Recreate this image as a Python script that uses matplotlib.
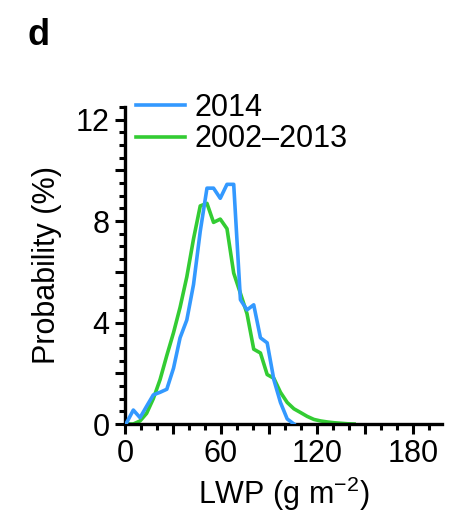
import numpy as np
import matplotlib
matplotlib.use("Agg")
import matplotlib.pyplot as plt
from matplotlib.ticker import MultipleLocator, FuncFormatter

plt.rcParams['font.family'] = ['Liberation Sans', 'DejaVu Sans']
plt.rcParams['mathtext.fontset'] = 'custom'
plt.rcParams['mathtext.rm'] = 'Liberation Sans'
plt.rcParams['mathtext.default'] = 'regular'

# LWP bin positions (g m-2)
lwp_2014 = [1.0, 5.2, 9.4, 13.5, 17.7, 21.9, 26.1, 30.3, 34.4, 38.6, 42.8, 47.0,
            51.2, 55.3, 59.5, 63.7, 67.9, 72.1, 76.2, 80.4, 84.6, 88.8, 93.0,
            97.1, 101.3, 105.5]
prob_2014 = [0.05, 0.55, 0.25, 0.7, 1.15, 1.25, 1.37, 2.2, 3.4, 4.1, 5.5, 7.6,
             9.3, 9.3, 8.9, 9.45, 9.45, 4.9, 4.5, 4.7, 3.4, 3.2, 1.74,
             0.85, 0.2, 0.0]

lwp_clim = [1.0, 5.2, 9.4, 13.5, 17.7, 21.9, 26.1, 30.3, 34.4, 38.6, 42.8, 47.0,
            51.2, 55.3, 59.5, 63.7, 67.9, 72.1, 76.2, 80.4, 84.6, 88.8, 93.0,
            97.1, 101.3, 105.5, 109.7, 113.8, 118.0, 122.2, 126.4, 130.5, 134.7,
            138.9, 143.1]
prob_clim = [0.0, 0.0, 0.12, 0.42, 1.0, 1.75, 2.7, 3.6, 4.6, 5.8, 7.3, 8.6,
             8.7, 7.95, 8.08, 7.7, 5.95, 5.15, 4.35, 2.95, 2.8, 1.95, 1.8,
             1.25, 0.85, 0.6, 0.45, 0.3, 0.18, 0.12, 0.08, 0.05, 0.03,
             0.01, 0.0]

fig = plt.figure(figsize=(4.52, 5.19), dpi=100)
ax = fig.add_axes([125/452, 1 - 424/519, 317/452, 317/519])

ax.plot(lwp_2014, prob_2014, color='#3399ff', lw=2.6, label='2014', zorder=3)
ax.plot(lwp_clim, prob_clim, color='#33cc33', lw=2.6, label='2002\u20132013', zorder=2)

ax.set_xlim(0, 198)
ax.set_ylim(0, 12.5)

ax.spines['top'].set_visible(False)
ax.spines['right'].set_visible(False)
for s in ['left', 'bottom']:
    ax.spines[s].set_linewidth(2.4)

ax.xaxis.set_major_locator(MultipleLocator(30))
ax.xaxis.set_minor_locator(MultipleLocator(10))
ax.xaxis.set_major_formatter(FuncFormatter(lambda v, p: '%d' % v if v % 60 == 0 else ''))
ax.yaxis.set_major_locator(MultipleLocator(2))
ax.yaxis.set_minor_locator(MultipleLocator(0.5))
ax.yaxis.set_major_formatter(FuncFormatter(lambda v, p: '%d' % v if v % 4 == 0 else ''))

ax.tick_params(which='major', direction='out', length=7, width=2.2, labelsize=22, pad=4)
ax.tick_params(which='minor', direction='out', length=4, width=2.2)

ax.set_xlabel('LWP (g m$^{\u22122}$)', fontsize=22, labelpad=4)
ax.set_ylabel('Probability (%)', fontsize=22, labelpad=10)

ax.legend(loc='upper left', bbox_to_anchor=(0.035, 1.045), frameon=False,
          fontsize=22, handlelength=1.6, handletextpad=0.3, labelspacing=0.05,
          borderaxespad=0, borderpad=0)

fig.text(0.06, 0.965, 'd', fontsize=26, fontweight='bold', va='top', ha='left')

fig.savefig('out.png', dpi=100)
